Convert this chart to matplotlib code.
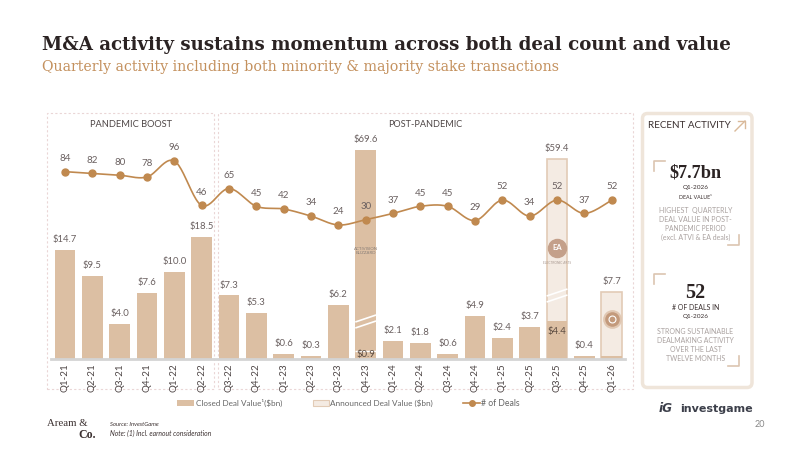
import numpy as np
import matplotlib
matplotlib.use("Agg")
import matplotlib.pyplot as plt
from matplotlib.patches import Rectangle, FancyBboxPatch
from matplotlib.lines import Line2D
from matplotlib.transforms import IdentityTransform

# ---------------- data ----------------
quarters = ["Q1-21", "Q2-21", "Q3-21", "Q4-21", "Q1-22", "Q2-22", "Q3-22", "Q4-22",
            "Q1-23", "Q2-23", "Q3-23", "Q4-23", "Q1-24", "Q2-24", "Q3-24", "Q4-24",
            "Q1-25", "Q2-25", "Q3-25", "Q4-25", "Q1-26"]
closed_value = [14.7, 9.5, 4.0, 7.6, 10.0, 18.5, 7.3, 5.3, 0.6, 0.3, 6.2, 69.6,
                2.1, 1.8, 0.6, 4.9, 2.4, 3.7, 4.4, 0.4, 0.3]
announced_value = [None] * 18 + [59.4, None, 7.7]
atvi_other_closed = 0.9          # Q4-23 closed value excl. ATVI
deal_count = [84, 82, 80, 78, 96, 46, 65, 45, 42, 34, 24, 30, 37, 45, 45, 29,
              52, 34, 52, 37, 52]
closed_label_idx = [i for i in range(len(quarters)) if i not in (18, 20)]

# ---------------- style ----------------
W, H = 800, 450
C_CLOSED = "#dcbfa3"
C_ANN = "#f4ebe3"
C_ANN_EDGE = "#e2cbb6"
C_LINE = "#c0894f"
C_TXT = "#6a6060"
C_DARK = "#2b2323"
C_TAN = "#c4915e"
SANS = ["Lato", "DejaVu Sans"]
SERIF = ["DejaVu Serif"]
SERIF2 = ["Liberation Serif"]

plt.rcParams["font.family"] = SANS

fig = plt.figure(figsize=(W / 100, H / 100), dpi=100)
fig.patch.set_facecolor("white")
renderer = fig.canvas.get_renderer()


def fp(x, y):
    return x / W, 1 - y / H


def dp(x, y):
    return x, H - y


def fit(t, width):
    """scale font size so the text spans the given pixel width"""
    w = t.get_window_extent(renderer).width
    t.set_fontsize(t.get_fontsize() * width / w)
    return t


def ftext(x, y, s, width=None, **kw):
    t = fig.text(*fp(x, y), s, **kw)
    if width:
        fit(t, width)
    return t


ID = IdentityTransform()

# ---------------- axes ----------------
x0, x1 = 51.3, 625.4
ybase, ytop = 359.0, 113.0
ax = fig.add_axes([x0 / W, 1 - ybase / H, (x1 - x0) / W, (ybase - ytop) / H])

# compressed value scale (broken axis for large values)
kv = np.array([0, 10, 14.7, 18.5, 59.4, 69.6, 200])
kp = np.array([0, 87, 109, 122, 200, 209, 339])


def fwd(v):
    return np.interp(v, kv, kp)


def inv(p):
    return np.interp(p, kp, kv)


ax.set_yscale("function", functions=(fwd, inv))
ax.set_ylim(0, float(inv(ybase - ytop)))
ax.set_xlim(-0.5, len(quarters) - 0.5)

x = np.arange(len(quarters))
bw = 0.76
VFS = 6.8

for i, a in enumerate(announced_value):
    if a is not None:
        ax.bar(i, a, width=bw, color=C_ANN, edgecolor=C_ANN_EDGE, linewidth=1.2, zorder=2)
        ax.annotate(f"${a:.1f}", (i, a), xytext=(0, 7.5), textcoords="offset points",
                    ha="center", va="center", fontsize=VFS, color=C_TXT)

ax.bar(x, closed_value, width=bw, color=C_CLOSED, linewidth=0, zorder=3)

for i in closed_label_idx:
    ax.annotate(f"${closed_value[i]:.1f}", (i, closed_value[i]), xytext=(0, 7.5),
                textcoords="offset points", ha="center", va="center", fontsize=VFS,
                color=C_TXT, zorder=6)

ax.hlines(atvi_other_closed, 11 - bw / 2, 11 + bw / 2, color="white", lw=1, zorder=4)
ax.annotate(f"${atvi_other_closed:.1f}", (11, 0), xytext=(0, 3.3), textcoords="offset points",
            ha="center", va="center", fontsize=VFS, color="#5a4a40", zorder=6)
ax.annotate(f"${closed_value[18]:.1f}", (18, closed_value[18]), xytext=(0, -8),
            textcoords="offset points", ha="center", va="center", fontsize=VFS,
            color="#5a4a40", zorder=6)

# axis break marks
for i, pbreak in [(11, 37), (18, 63)]:
    for off in (0, 6):
        yl = inv(pbreak - off)
        yr = inv(pbreak - off + 7)
        ax.plot([i - bw / 2, i + bw / 2], [yl, yr], color="white", lw=1.2, zorder=5,
                solid_capstyle="butt")

# small logo marks inside the large bars
ax.text(11, inv(108), "ACTIVISION\nBLIZZARD", ha="center", va="center", fontsize=3.2,
        color="#8a7f78", linespacing=0.9, zorder=6)
ea_y = inv(111)
ax.plot(18, ea_y, "o", ms=13, color="#c4a08a", zorder=6)
ax.text(18, ea_y, "EA", ha="center", va="center", fontsize=5.5, color="white",
        fontweight="bold", zorder=7)
ax.text(18, inv(96), "ELECTRONIC ARTS", ha="center", va="center", fontsize=2.3,
        color="#a89890", zorder=6)
lg_y = inv(40)
ax.plot(20, lg_y, "o", ms=12, mfc="#c39a7c", mec="#e0c7b2", mew=1.5, zorder=6)
ax.plot(20, lg_y, "o", ms=5, mfc="none", mec="white", mew=0.8, zorder=7)

ax.axhline(0, color="#d4d4d4", lw=2, zorder=4, clip_on=False)
ax.set_xticks(x)
ax.set_xticklabels(quarters, rotation=90, fontsize=7, color="#4d4545")
ax.tick_params(axis="x", length=0, pad=3)
ax.set_yticks([])
ax.yaxis.set_minor_locator(matplotlib.ticker.NullLocator())
for s in ax.spines.values():
    s.set_visible(False)
ax.patch.set_alpha(0)

# ---------------- deal count line ----------------
ax2 = ax.twinx()
ax2.set_ylim(-126.8, 150)
ax2.set_yticks([])
for s in ax2.spines.values():
    s.set_visible(False)


def catmull(xs, ys, n=24):
    P = np.column_stack([xs, ys]).astype(float)
    P = np.vstack([P[0], P, P[-1]])
    out = []
    t = np.linspace(0, 1, n, endpoint=False)[:, None]
    for k in range(1, len(P) - 2):
        p0, p1, p2, p3 = P[k - 1], P[k], P[k + 1], P[k + 2]
        out.append(0.5 * ((2 * p1) + (-p0 + p2) * t + (2 * p0 - 5 * p1 + 4 * p2 - p3) * t ** 2
                          + (-p0 + 3 * p1 - 3 * p2 + p3) * t ** 3))
    out.append(P[-2][None])
    return np.vstack(out)


curve = catmull(x, deal_count)
ax2.plot(curve[:, 0], curve[:, 1], color=C_LINE, lw=1.2, zorder=8)
ax2.plot(x, deal_count, "o", color=C_LINE, ms=5, zorder=9)
for i, n in enumerate(deal_count):
    ax2.annotate(str(n), (i, n), xytext=(0, 9.5), textcoords="offset points",
                 ha="center", va="center", fontsize=7, color=C_TXT, zorder=9)

# ---------------- period boxes ----------------
for (bx0, bx1, title, tx, tw) in [(46.7, 214, "PANDEMIC BOOST", 130.8, 82),
                                  (218, 632.7, "POST-PANDEMIC", 425, 74)]:
    r = Rectangle(dp(bx0, 389), bx1 - bx0, 389 - 112.7, transform=ID, fill=False,
                  edgecolor="#ead6d6", lw=0.8, ls=(0, (2, 2)), zorder=0)
    fig.add_artist(r)
    ftext(tx, 124.5, title, tw, ha="center", va="center", fontsize=7.5, color="#4d4545")

# ---------------- title ----------------
ftext(42, 45, "M&A activity sustains momentum across both deal count and value", 691,
      ha="left", va="center", fontsize=14, fontweight="bold", color=C_DARK, family=SERIF)
ftext(42, 67, "Quarterly activity including both minority & majority stake transactions", 520,
      ha="left", va="center", fontsize=10, color=C_TAN, family=SERIF)

# ---------------- right panel ----------------
pan = FancyBboxPatch(dp(642.5, 387.5), 109.5, 274, transform=ID,
                     boxstyle="round,pad=0,rounding_size=5", facecolor="white",
                     edgecolor="#efe5da", lw=2.5)
fig.add_artist(pan)
ftext(648.5, 125, "RECENT ACTIVITY", 83, ha="left", va="center", fontsize=8, color="#3b3030")
fig.add_artist(Line2D([735, 745], [H - 131, H - 121], transform=ID, color="#d9b99a", lw=1))
fig.add_artist(Line2D([738, 745, 745], [H - 121, H - 121, H - 128], transform=ID,
                      color="#d9b99a", lw=1))


def bracket(xa, ya, xb, yb):
    c = "#dcc5b0"
    fig.add_artist(Line2D([xa + 11, xa, xa], [H - ya, H - ya, H - ya - 10], transform=ID,
                          color=c, lw=1.2))
    fig.add_artist(Line2D([xb - 11, xb, xb], [H - yb, H - yb, H - yb + 10], transform=ID,
                          color=c, lw=1.2))


bracket(654.3, 160.7, 739.3, 245)
bracket(654.3, 274, 739.3, 366)
cx = 695.5
ftext(cx, 173, "$7.7bn", 52, ha="center", va="center", fontsize=13, fontweight="bold",
      color=C_DARK, family=SERIF2)
ftext(cx, 188, "Q1-2026", 26, ha="center", va="center", fontsize=6.2, color="#3b3030")
ftext(cx, 197, "DEAL VALUE¹", 33, ha="center", va="center", fontsize=6.2, color="#3b3030")
for k, (s, w) in enumerate([("HIGHEST  QUARTERLY", 73), ("DEAL VALUE IN POST-", 72),
                            ("PANDEMIC PERIOD", 60), ("(excl. ATVI & EA deals)", 69)]):
    ftext(cx, 210 + 9 * k, s, w, ha="center", va="center", fontsize=5.8, color="#aaa2a0")
ftext(cx, 292.5, "52", 20, ha="center", va="center", fontsize=13, fontweight="bold",
      color=C_DARK, family=SERIF2)
ftext(cx, 307, "# OF DEALS IN", 48, ha="center", va="center", fontsize=6.2, color="#3b3030")
ftext(cx, 316.5, "Q1-2026", 26, ha="center", va="center", fontsize=6.2, color="#3b3030")
for k, (s, w) in enumerate([("STRONG SUSTAINABLE", 75), ("DEALMAKING ACTIVITY", 77),
                            ("OVER THE LAST", 52), ("TWELVE MONTHS", 59)]):
    ftext(cx, 331.5 + 9 * k, s, w, ha="center", va="center", fontsize=5.8, color="#aaa2a0")

# ---------------- legend ----------------
ly = 403
fig.add_artist(Rectangle(dp(176.7, ly + 3.3), 17.3, 6.6, transform=ID, color=C_CLOSED, lw=0))
ftext(195.5, ly, "Closed Deal Value¹($bn)", 87, ha="left", va="center", fontsize=7,
      color="#666")
fig.add_artist(Rectangle(dp(312.7, ly + 3.3), 16.6, 6.6, transform=ID, facecolor=C_ANN,
                         edgecolor=C_ANN_EDGE, lw=0.8))
ftext(330, ly, "Announced Deal Value ($bn)", 103, ha="left", va="center", fontsize=7,
      color="#666")
fig.add_artist(Line2D([463, 480], [H - ly, H - ly], transform=ID, color=C_LINE, lw=1.2))
fig.add_artist(Line2D([471.5], [H - ly], transform=ID, color=C_LINE, marker="o", ms=4, lw=0))
ftext(481, ly, "# of Deals", 39, ha="left", va="center", fontsize=7, color="#666")

# ---------------- footer ----------------
ftext(46.7, 424, "Aream &", 40, ha="left", va="center", fontsize=8.5, color="#3b3030",
      family=SERIF2)
ftext(96, 435, "Co.", 17.5, ha="right", va="center", fontsize=8.5, color="#3b3030",
      family=SERIF2, fontweight="bold")
ftext(110, 424.5, "Source: InvestGame", 48, ha="left", va="center", fontsize=4.8,
      color="#3b3030", style="italic")
ftext(110, 433.5, "Note: (1) Incl. earnout consideration", 100, ha="left", va="center",
      fontsize=4.8, color="#3b3030", style="italic")
ftext(659, 408.5, "iG", 14, ha="left", va="center", fontsize=9, color="#3c3f4a",
      fontweight="bold", style="italic", family=["DejaVu Sans"])
ftext(680, 408.5, "investgame", 73, ha="left", va="center", fontsize=9, color="#3c3f4a",
      fontweight="bold", family=["DejaVu Sans"])
ftext(765, 424.5, "20", None, ha="right", va="center", fontsize=6.5, color="#888")

fig.savefig("out.png", dpi=100, facecolor="white")
